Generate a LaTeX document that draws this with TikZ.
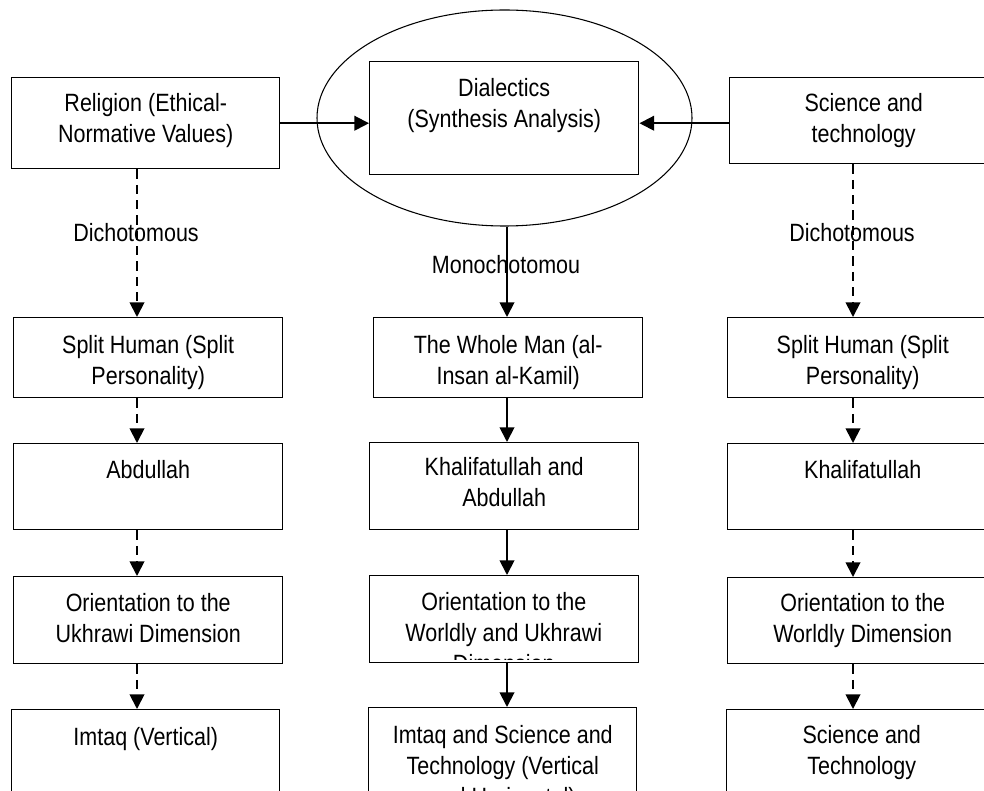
\documentclass[tikz,border=0pt]{standalone}
\usepackage{fontspec}
\setmainfont{Liberation Sans}[FakeStretch=0.86]
\usetikzlibrary{arrows.meta,shapes.geometric}
\newdimen\px \px=0.75pt
\newcommand\bxt[4]{\parbox[t][#2\px][t]{#1\px}{\centering\vspace*{\dimexpr #3\px-\ht\strutbox\relax}\strut #4\par}}
\begin{document}
\begin{tikzpicture}[x=0.75pt,y=-0.75pt,
  txt/.style={font=\fontsize{18.75}{23.25}\selectfont},
  box/.style={txt,draw,line width=1.1pt,inner sep=0pt,anchor=north west},
  lbl/.style={txt,inner sep=0pt},
  arr/.style={line width=1.4pt,-{Triangle[length=11pt,width=11pt]}},
  darr/.style={arr,dash pattern=on 7pt off 4.5pt}]
\useasboundingbox (0,0) rectangle (984,791);
\fill[white] (0,0) rectangle (984,791);
% ellipse
\node[draw,ellipse,line width=0.8pt,minimum width=281.25pt,minimum height=162pt,inner sep=0pt] (ell) at (504.5,118) {};
% top row
\node[box] (rel) at (11,77) {\bxt{268}{91}{34}{Religion (Ethical-\\Normative Values)}};
\node[box] (dia) at (369,61) {\bxt{269}{113}{35}{Dialectics\\(Synthesis Analysis)}};
\node[box] (sci) at (729,77) {\bxt{268}{86}{34}{Science and\\technology}};
% row 2
\node[box] (sh1) at (13,317) {\bxt{269}{80}{36}{Split Human (Split\\Personality)}};
\node[box] (wm) at (373,317) {\bxt{269}{80}{36}{The Whole Man (al-\\Insan al-Kamil)}};
\node[box] (sh2) at (727,317) {\bxt{270}{80}{36}{Split Human (Split\\Personality)}};
% row 3
\node[box] (ab) at (13,443) {\bxt{269}{86}{35}{Abdullah}};
\node[box] (ka) at (369,442) {\bxt{269}{87}{33}{Khalifatullah and\\Abdullah}};
\node[box] (kh) at (727,443) {\bxt{270}{86}{35}{Khalifatullah}};
% row 4
\node[box] (ou) at (13,576) {\bxt{269}{87}{35}{Orientation to the\\Ukhrawi Dimension}};
\node[box] (om) at (369,575) {\bxt{269}{87}{36}{}};
\begin{scope}
  \clip ([yshift=3pt]om.south west) rectangle (om.north east);
  \node[txt,inner sep=0pt,anchor=north west] (omt) at (om.north west) {\bxt{269}{87}{35}{Orientation to the\\Worldly and Ukhrawi\\Dimension}};
\end{scope}
\node[box] (ow) at (727,577) {\bxt{270}{86}{34}{Orientation to the\\Worldly Dimension}};
% row 5
\node[box] (im) at (11,709) {\bxt{268}{120}{36}{Imtaq (Vertical)}};
\node[box] (ist) at (368,707) {\bxt{268}{120}{36}{Imtaq and Science and\\Technology (Vertical\\and Horizontal)}};
\node[box] (st) at (726,709) {\bxt{270}{120}{34}{Science and\\Technology}};
% labels
\node[lbl] (d1) at (136,233) {Dichotomous};
\node[lbl] (d2) at (852,233) {Dichotomous};
\node[lbl] (mono) at (506,265) {Monochotomou};
% column coordinates
\coordinate (cL) at (137,0);
\coordinate (cM) at (507,0);
\coordinate (cR) at (853,0);
% horizontal arrows
\draw[arr] (rel.east) -- (rel.east -| dia.west);
\draw[arr] (sci.west |- rel.east) -- (dia.east |- rel.east);
% left column
\draw[darr] (cL |- rel.south) -- (cL |- sh1.north);
\draw[darr] (cL |- sh1.south) -- (cL |- ab.north);
\draw[darr] (cL |- ab.south) -- (cL |- ou.north);
\draw[darr] (cL |- ou.south) -- (cL |- im.north);
% middle column
\draw[arr] (cM |- ell.south) -- (cM |- wm.north);
\draw[arr] (cM |- wm.south) -- (cM |- ka.north);
\draw[arr] (cM |- ka.south) -- (cM |- om.north);
\draw[arr] (cM |- om.south) -- (cM |- ist.north);
% right column
\draw[darr] (cR |- sci.south) -- (cR |- sh2.north);
\draw[darr] (cR |- sh2.south) -- (cR |- kh.north);
\draw[darr] (cR |- kh.south) -- (cR |- ow.north);
\draw[darr] (cR |- ow.south) -- (cR |- st.north);
\end{tikzpicture}
\end{document}
